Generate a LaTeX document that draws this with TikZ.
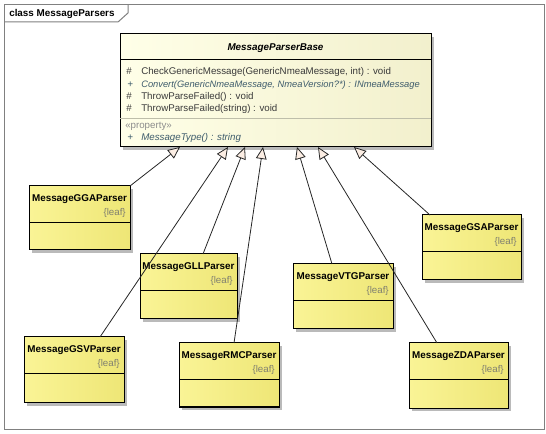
\documentclass[tikz,border=0pt]{standalone}
\usepackage{fontspec}
\setmainfont{Liberation Sans}
\usetikzlibrary{arrows.meta,shadows,calc}
\definecolor{framecol}{RGB}{128,128,128}
\definecolor{baseL}{RGB}{255,255,232}
\definecolor{baseR}{RGB}{242,240,205}
\definecolor{subL}{RGB}{250,244,150}
\definecolor{subR}{RGB}{238,230,118}
\definecolor{txtcol}{RGB}{58,58,58}
\definecolor{itcol}{RGB}{62,92,108}
\definecolor{propcol}{RGB}{140,140,140}
\definecolor{leafcol}{RGB}{128,128,112}
\definecolor{tipfill}{RGB}{252,238,228}
\definecolor{sepgray}{RGB}{190,190,170}
\newcommand\umlcls[6]{%
  \node[subbox, minimum width={(#4-#2)*0.75pt}, minimum height={(#5-#3)*0.75pt}, anchor=north west] (#1) at (#2,#3) {};
  \draw[boxline] ($(#1.north west)+(0,37)$) -- ($(#1.north east)+(0,37)$);
  \node[namefont] (#1-name) at ($(#1.north)+(0,13.5)$) {#6};
  \node[leaffont, anchor=east] (#1-leaf) at ($(#1.north east)+(-4,27)$) {\{leaf\}};
}
\begin{document}
\begin{tikzpicture}[x=0.75pt,y=-0.75pt,
  framestyle/.style={draw=framecol, line width=0.75pt},
  boxline/.style={draw=black, line width=0.75pt},
  basebox/.style={boxline, inner sep=0, outer sep=0, left color=baseL, right color=baseR,
    drop shadow={shadow xshift=2.2pt, shadow yshift=-2.2pt, fill=black!45, opacity=0.6}},
  subbox/.style={boxline, inner sep=0, outer sep=0, left color=subL, right color=subR,
    drop shadow={shadow xshift=2.2pt, shadow yshift=-2.2pt, fill=black!45, opacity=0.6}},
  namefont/.style={inner sep=0, font=\fontsize{7.4}{8}\selectfont\bfseries, text=black},
  leaffont/.style={inner sep=0, font=\fontsize{7.3}{8}\selectfont, text=leafcol, text height=5.3pt, text depth=1.5pt},
  mtxt/.style={inner sep=0, anchor=west, font=\fontsize{7.3}{8}\selectfont, text=txtcol, text height=5.3pt, text depth=1.5pt},
  mit/.style={mtxt, font=\fontsize{7.3}{8}\selectfont\itshape, text=itcol},
  mprop/.style={mtxt, text=propcol},
  gen/.style={draw=black!85, line width=0.6pt, -{Triangle[length=9pt, width=8pt, fill=tipfill]}}
]
\useasboundingbox (0,0) rectangle (546,434);
% frame
\draw[framestyle] (4,5) rectangle (544,429);
\draw[framestyle] (4,22) -- (118,22) -- (128,13) -- (128,5);
\node[inner sep=0, anchor=west, font=\fontsize{7.4}{8}\selectfont\bfseries] (title) at (9,13.5) {class MessageParsers};

% base class
\node[basebox, minimum width={311*0.75pt}, minimum height={113*0.75pt}, anchor=north west] (base) at (120,34) {};
\draw[boxline] ($(base.north west)+(0,26)$) -- ($(base.north east)+(0,26)$);
\draw[draw=sepgray, line width=0.6pt] ($(base.north west)+(0,84)$) -- ($(base.north east)+(0,84)$);
\node[namefont, font=\fontsize{7.4}{8}\selectfont\bfseries\itshape] (base-name) at ($(base.north)+(0,14)$) {MessageParserBase};
\node[mtxt] (m1v) at (126,72) {\#};
\node[mtxt] (m1) at (141,72) {CheckGenericMessage(GenericNmeaMessage, int) : void};
\node[mit] (m2v) at (127,85) {+};
\node[mit, font=\fontsize{7.0}{8}\selectfont\itshape] (m2) at (141,85) {Convert(GenericNmeaMessage, NmeaVersion?*) : INmeaMessage};
\node[mtxt] (m3v) at (126,97) {\#};
\node[mtxt] (m3) at (141,97) {ThrowParseFailed() : void};
\node[mtxt] (m4v) at (126,109) {\#};
\node[mtxt] (m4) at (141,109) {ThrowParseFailed(string) : void};
\node[mprop] (prop) at (125,126) {«property»};
\node[mit] (p1v) at (127,138) {+};
\node[mit] (p1) at (141,138) {MessageType() : string};

% subclasses
\umlcls{gga}{29}{186}{130}{250}{MessageGGAParser}
\umlcls{gll}{140}{254}{237}{319}{MessageGLLParser}
\umlcls{vtg}{293}{264}{393}{329}{MessageVTGParser}
\umlcls{gsa}{422}{215}{521}{280}{MessageGSAParser}
\umlcls{gsv}{24}{337}{124}{403}{MessageGSVParser}
\umlcls{rmc}{179}{343}{279}{407}{MessageRMCParser}
\umlcls{zda}{409}{343}{508}{408}{MessageZDAParser}

% attachment points on base
\coordinate (t1) at ($(base.south west)+(60,0)$);
\coordinate (t2) at ($(base.south west)+(108,0)$);
\coordinate (t3) at ($(base.south west)+(125,0)$);
\coordinate (t4) at ($(base.south west)+(143,0)$);
\coordinate (t5) at ($(base.south west)+(177,0)$);
\coordinate (t6) at ($(base.south west)+(198,0)$);
\coordinate (t7) at ($(base.south west)+(234,0)$);

% generalizations
\draw[gen] (gga.north east) -- (t1);
\draw[gen] ($(gsv.north west)+(76,0)$) -- (t2);
\draw[gen] ($(gll.north west)+(63,0)$) -- (t3);
\draw[gen] ($(rmc.north west)+(55,0)$) -- (t4);
\draw[gen] ($(vtg.north west)+(39,0)$) -- (t5);
\draw[gen] ($(zda.north west)+(28,0)$) -- (t6);
\draw[gen] ($(gsa.north west)+(8,0)$) -- (t7);
\end{tikzpicture}
\end{document}
